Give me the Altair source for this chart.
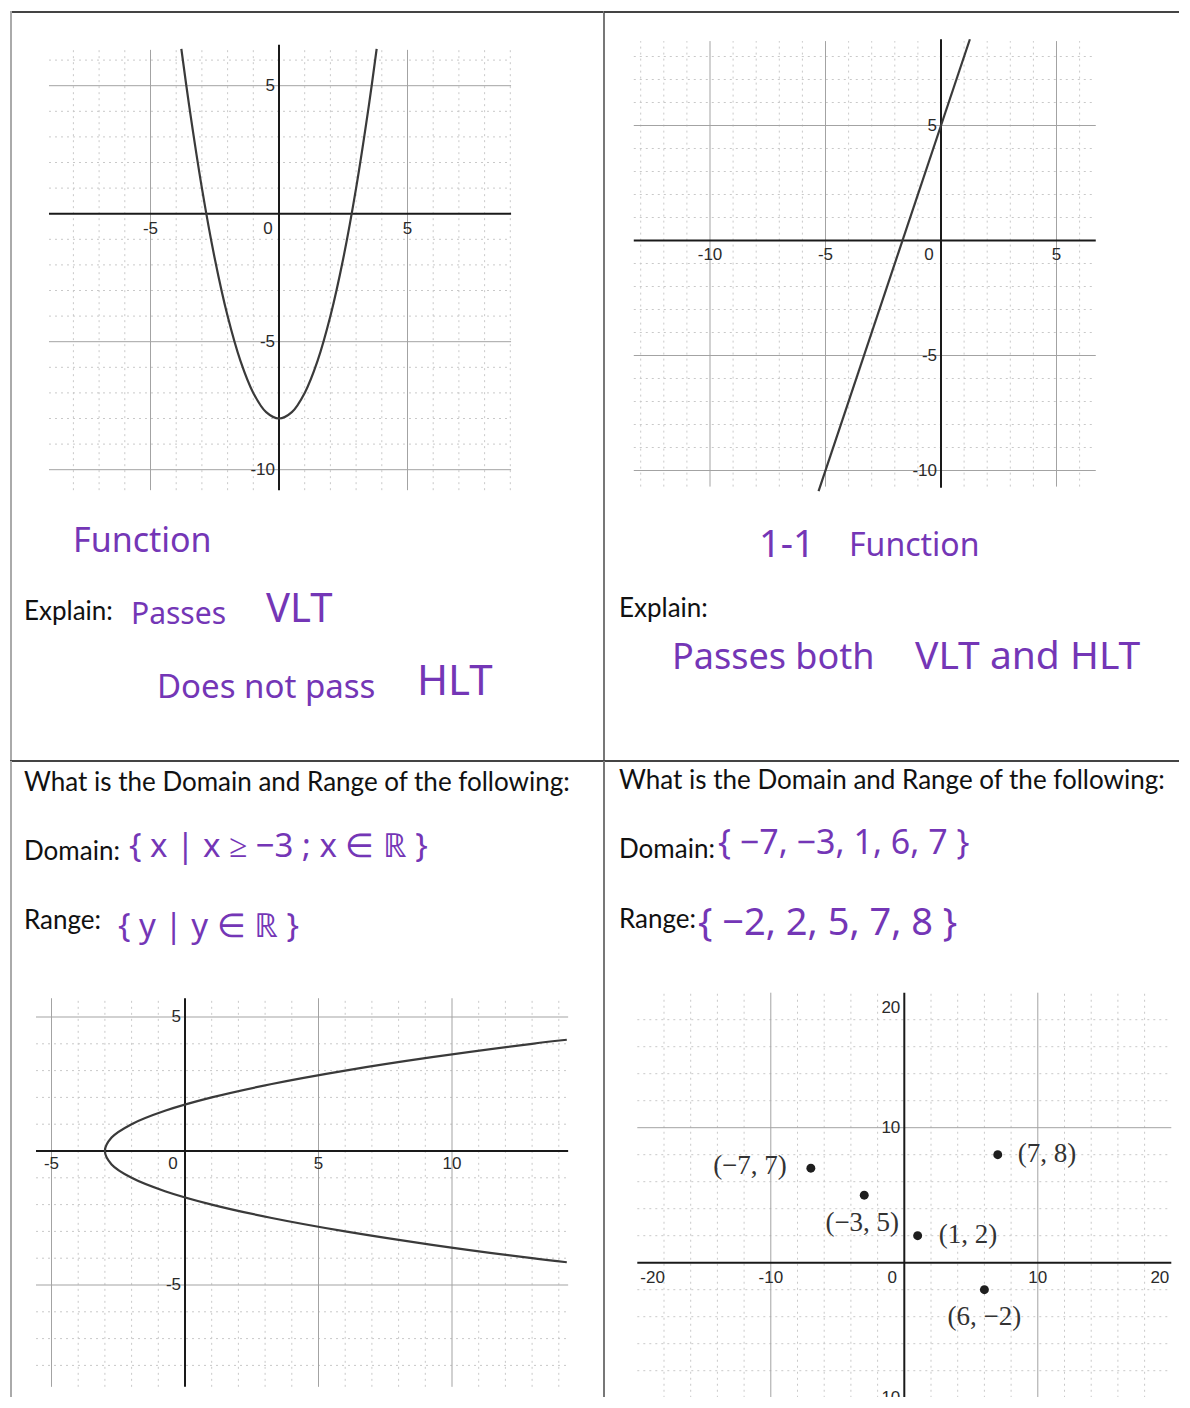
import math
import altair as alt
import pandas as pd

# ---------------- values ----------------
# Top-left graph: parabola with vertex (0, -8)
p1_x = [-3.8, -3.5, -3.0, -2.5, -2.0, -1.5, -1.0, -0.5, 0.0, 0.5, 1.0, 1.5, 2.0, 2.5, 3.0, 3.5, 3.8]
p1_y = [6.44, 4.25, 1.0, -1.75, -4.0, -5.75, -7.0, -7.75, -8.0, -7.75, -7.0, -5.75, -4.0, -1.75, 1.0, 4.25, 6.44]
p1_xticks = [-5, 5]
p1_yticks = [5, -5, -10]

# Top-right graph: straight line
p2_x = [-5.3, 1.25]
p2_y = [-10.9, 8.75]
p2_xticks = [-10, -5, 5]
p2_yticks = [5, -5, -10]

# Bottom-left graph: sideways parabola, vertex (-3, 0)
p3_x = [14.3, 13.0, 9.25, 6.0, 3.25, 1.0, -0.75, -2.0, -2.75, -3.0, -2.75, -2.0, -0.75, 1.0, 3.25, 6.0, 9.25, 13.0, 14.3]
p3_y = [4.15, 4.0, 3.5, 3.0, 2.5, 2.0, 1.5, 1.0, 0.5, 0.0, -0.5, -1.0, -1.5, -2.0, -2.5, -3.0, -3.5, -4.0, -4.15]
p3_xticks = [-5, 5, 10]
p3_yticks = [5, -5]

# Bottom-right graph: five points
p4_x = [-7, -3, 1, 6, 7]
p4_y = [7, 5, 2, -2, 8]
p4_labels = ["(\u22127, 7)", "(\u22123, 5)", "(1, 2)", "(6, \u22122)", "(7, 8)"]
p4_xticks = [-10, 10]
p4_yticks = [10, -10]

HEADER = "What is the Domain and Range of the following:"

# ---------------- styles ----------------
PURPLE = "#7436b6"
INK = "#1a1a1a"
HAND_FONT = "Noto Sans"
PRINT_FONT = "Lato"
TICK_FONT = "Liberation Sans"
TICK_SIZE = 17

# cell geometry (page pixels) and graph origin / pixels per unit
CELLS = {
    "tl": dict(x0=9, y0=10, w=594, h=750, ox=278, oy=212.7, kx=25.7, ky=25.6),
    "tr": dict(x0=603, y0=10, w=575, h=750, ox=940, oy=239.5, kx=23.1, ky=23.0),
    "bl": dict(x0=9, y0=760, w=594, h=636, ox=184, oy=1150, kx=26.7, ky=26.8),
    "br": dict(x0=603, y0=760, w=575, h=636, ox=903.3, oy=1261.7, kx=13.35, ky=13.5),
}


def scales(c):
    sx = alt.Scale(domain=[(c["x0"] - c["ox"]) / c["kx"], (c["x0"] + c["w"] - c["ox"]) / c["kx"]],
                   nice=False, zero=False)
    sy = alt.Scale(domain=[(c["oy"] - (c["y0"] + c["h"])) / c["ky"], (c["oy"] - c["y0"]) / c["ky"]],
                   nice=False, zero=False)
    return sx, sy


def mults(lo, hi, step):
    k0 = math.ceil(lo / step + 1e-6)
    k1 = math.floor(hi / step - 1e-6)
    return [k * step for k in range(k0, k1 + 1)]


def grid_layers(sx, sy, xlo, xhi, ylo, yhi, minor, major, ay_lo=None, ay_hi=None):
    X = lambda f: alt.X(f, type="quantitative", scale=sx, axis=None)
    Y = lambda f: alt.Y(f, type="quantitative", scale=sy, axis=None)
    vx = mults(xlo, xhi, minor)
    vy = mults(ylo, yhi, minor)
    layers = []
    for sel, style in [(lambda v: v % major != 0, dict(color="#c9c9c9", strokeWidth=1, strokeDash=[2, 4])),
                       (lambda v: v % major == 0 and v != 0, dict(color="#a3a3a3", strokeWidth=1))]:
        dv = pd.DataFrame({"g": [v for v in vx if sel(v)], "a": ylo, "b": yhi})
        dh = pd.DataFrame({"g": [v for v in vy if sel(v)], "a": xlo, "b": xhi})
        layers.append(alt.Chart(dv).mark_rule(clip=True, **style).encode(x=X("g"), y=Y("a"), y2="b"))
        layers.append(alt.Chart(dh).mark_rule(clip=True, **style).encode(y=Y("g"), x=X("a"), x2="b"))
    # main axes
    ax = pd.DataFrame({"g": [0], "a": [xlo], "b": [xhi]})
    ay = pd.DataFrame({"g": [0], "a": [ay_lo if ay_lo is not None else ylo],
                       "b": [ay_hi if ay_hi is not None else yhi]})
    layers.append(alt.Chart(ax).mark_rule(color=INK, strokeWidth=2).encode(y=Y("g"), x=X("a"), x2="b"))
    layers.append(alt.Chart(ay).mark_rule(color=INK, strokeWidth=2, clip=True).encode(x=X("g"), y=Y("a"), y2="b"))
    return layers


def tick_layers(sx, sy, xt, yt, xdy, zero_dx=-11):
    X = lambda f: alt.X(f, type="quantitative", scale=sx, axis=None)
    Y = lambda f: alt.Y(f, type="quantitative", scale=sy, axis=None)
    sty = dict(font=TICK_FONT, fontSize=TICK_SIZE, color="#2a2a2a", clip=True)
    dx_ = pd.DataFrame({"v": xt, "z": 0, "t": [str(v) for v in xt]})
    dy_ = pd.DataFrame({"v": yt, "z": 0, "t": [str(v) for v in yt]})
    d0 = pd.DataFrame({"v": [0], "z": [0], "t": ["0"]})
    return [
        alt.Chart(dx_).mark_text(align="center", baseline="middle", dy=xdy, **sty)
        .encode(x=X("v"), y=Y("z"), text="t:N"),
        alt.Chart(dy_).mark_text(align="right", baseline="middle", dx=-4, **sty)
        .encode(x=X("z"), y=Y("v"), text="t:N"),
        alt.Chart(d0).mark_text(align="center", baseline="middle", dx=zero_dx, dy=xdy, **sty)
        .encode(x=X("v"), y=Y("z"), text="t:N"),
    ]


def curve(sx, sy, xs, ys, interp="catmull-rom"):
    df = pd.DataFrame({"x": xs, "y": ys, "i": list(range(len(xs)))})
    return alt.Chart(df).mark_line(color="#3a3a3a", strokeWidth=2.2, interpolate=interp).encode(
        x=alt.X("x:Q", scale=sx, axis=None), y=alt.Y("y:Q", scale=sy, axis=None), order="i:Q")


def ptext(c, px, py, text, size, color, font, align="left", baseline="middle", clip=False):
    return alt.Chart(alt.Data(values=[{}])).mark_text(
        text=text, font=font, fontSize=size, color=color, align=align, baseline=baseline, clip=clip
    ).encode(x=alt.value(px - c["x0"]), y=alt.value(py - c["y0"]))


def hand(c, px, py, text, size):
    return ptext(c, px, py, text, size, PURPLE, HAND_FONT)


def printed(c, px, py, text, size=26):
    return ptext(c, px, py, text, size, "#111111", PRINT_FONT)


def hline(c, y, color, width=2):
    return alt.Chart(alt.Data(values=[{}])).mark_rule(color=color, strokeWidth=width).encode(
        x=alt.value(0), x2=alt.value(c["w"]), y=alt.value(y))


def vline(c, x, color, width=2):
    return alt.Chart(alt.Data(values=[{}])).mark_rule(color=color, strokeWidth=width).encode(
        x=alt.value(x), y=alt.value(0), y2=alt.value(c["h"]))


# ---------------- top-left cell ----------------
c = CELLS["tl"]
sx, sy = scales(c)
tl_layers = grid_layers(sx, sy, -8.95, 9.03, -10.8, 6.4, 1, 5, ay_hi=6.6)
tl_layers += tick_layers(sx, sy, p1_xticks, p1_yticks, 15, -11)
tl_layers.append(curve(sx, sy, p1_x, p1_y))
tl_layers += [
    hand(c, 72, 541, "Function", 34),
    printed(c, 23, 611, "Explain:"),
    hand(c, 130, 614, "Passes", 30),
    hand(c, 265, 609, "VLT", 40),
    hand(c, 156, 687, "Does not pass", 33),
    hand(c, 416, 681, "HLT", 42),
    hline(c, 1, "#444444"), vline(c, 1, "#aaaaaa"), vline(c, c["w"], "#777777"), hline(c, c["h"], "#444444"),
]
tl = alt.layer(*tl_layers).properties(width=c["w"], height=c["h"])

# ---------------- top-right cell ----------------
c = CELLS["tr"]
sx, sy = scales(c)
tr_layers = grid_layers(sx, sy, -13.3, 6.7, -10.7, 8.67, 1, 5, ay_lo=-10.75, ay_hi=8.75)
tr_layers += tick_layers(sx, sy, p2_xticks, p2_yticks, 14, -12)
tr_layers.append(curve(sx, sy, p2_x, p2_y, interp="linear"))
tr_layers += [
    hand(c, 758, 545, "1-1", 38),
    hand(c, 848, 545, "Function", 32),
    printed(c, 618, 608, "Explain:"),
    hand(c, 671, 657, "Passes both", 36),
    hand(c, 914, 656, "VLT and HLT", 39),
    hline(c, 1, "#444444"), hline(c, c["h"], "#444444"),
]
tr = alt.layer(*tr_layers).properties(width=c["w"], height=c["h"])

# ---------------- bottom-left cell ----------------
c = CELLS["bl"]
sx, sy = scales(c)
bl_layers = grid_layers(sx, sy, -5.58, 14.35, -8.8, 5.7, 1, 5)
bl_layers += tick_layers(sx, sy, p3_xticks, p3_yticks, 13, -12)
bl_layers.append(curve(sx, sy, p3_x, p3_y))
bl_layers += [
    printed(c, 23, 782, HEADER),
    printed(c, 23, 851, "Domain:"),
    hand(c, 128, 846, "{ x | x \u2265 \u22123 ; x \u2208 \u211d }", 33),
    printed(c, 23, 920, "Range:"),
    hand(c, 117, 926, "{ y | y \u2208 \u211d }", 33),
    vline(c, 1, "#aaaaaa"), vline(c, c["w"], "#777777"),
]
bl = alt.layer(*bl_layers).properties(width=c["w"], height=c["h"])

# ---------------- bottom-right cell ----------------
c = CELLS["br"]
sx, sy = scales(c)
br_bottom = (c["oy"] - (c["y0"] + c["h"])) / c["ky"] - 0.5
br_layers = grid_layers(sx, sy, -20, 20, br_bottom, 20, 2, 10)
br_layers += tick_layers(sx, sy, p4_xticks, p4_yticks, 15, -12)
X4 = lambda f: alt.X(f, type="quantitative", scale=sx, axis=None)
Y4 = lambda f: alt.Y(f, type="quantitative", scale=sy, axis=None)
tick_sty = dict(font=TICK_FONT, fontSize=TICK_SIZE, color="#2a2a2a", baseline="middle")
br_layers += [
    alt.Chart(pd.DataFrame({"v": [-20], "z": [0], "t": ["-20"]})).mark_text(align="left", dx=3, dy=15, **tick_sty)
    .encode(x=X4("v"), y=Y4("z"), text="t:N"),
    alt.Chart(pd.DataFrame({"v": [20], "z": [0], "t": ["20"]})).mark_text(align="right", dx=-2, dy=15, **tick_sty)
    .encode(x=X4("v"), y=Y4("z"), text="t:N"),
    alt.Chart(pd.DataFrame({"v": [20], "z": [0], "t": ["20"]})).mark_text(align="right", dx=-4, dy=15, **tick_sty)
    .encode(x=X4("z"), y=Y4("v"), text="t:N"),
]
pts = pd.DataFrame({"x": p4_x, "y": p4_y, "t": p4_labels})
br_layers.append(alt.Chart(pts).mark_circle(size=80, color="#1e1e1e", opacity=1).encode(x=X4("x"), y=Y4("y")))
label_style = [("right", -24, -2), ("center", -2, 28), ("left", 21, -1), ("center", 0, 27), ("left", 20, -1)]
for i, (al, ddx, ddy) in enumerate(label_style):
    br_layers.append(
        alt.Chart(pts.iloc[[i]]).mark_text(align=al, baseline="middle", dx=ddx, dy=ddy,
                                           font="Liberation Serif", fontSize=27, color="#333333")
        .encode(x=X4("x"), y=Y4("y"), text="t:N"))
br_layers += [
    printed(c, 618, 780, HEADER),
    printed(c, 618, 849, "Domain:"),
    hand(c, 717, 843, "{ \u22127, \u22123, 1, 6, 7 }", 34),
    printed(c, 618, 919, "Range:"),
    hand(c, 697, 923, "{ \u22122, 2, 5, 7, 8 }", 38),
]
br = alt.layer(*br_layers).properties(width=c["w"], height=c["h"])

chart = alt.concat(
    tl, tr, bl, br, columns=2, spacing=0, bounds="flush"
).properties(
    padding={"left": 1, "top": 2, "right": 0, "bottom": 0}
).configure_view(stroke=None)

chart.save("out.html", embed_options={"renderer": "svg", "actions": False})
